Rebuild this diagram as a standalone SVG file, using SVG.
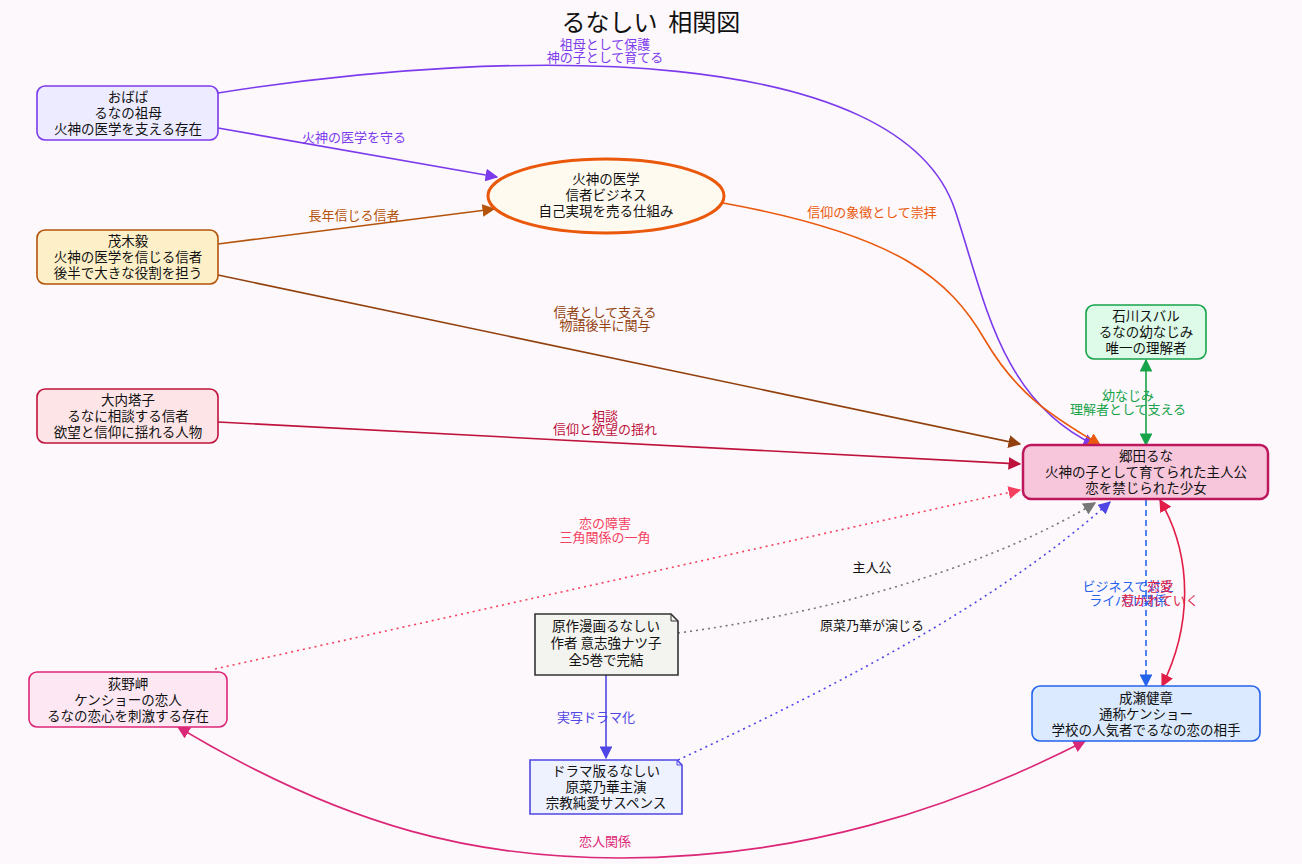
<svg xmlns="http://www.w3.org/2000/svg" width="1302" height="864" viewBox="0 0 1302 864">
<defs>
<style>
text{font-family:"Noto Sans CJK JP","Liberation Sans",sans-serif;font-size:13px;text-anchor:middle}
.n{font-size:13.5px;fill:#111}
.e{fill:none;stroke-width:1.6}
</style>
<marker id="a" viewBox="0 0 10 10" refX="9" refY="5" markerWidth="8" markerHeight="8" orient="auto-start-reverse"><path d="M0,0L10,5L0,10z" fill="context-stroke"/></marker>
</defs>
<rect width="1302" height="864" fill="#fdf8fb"/>
<text x="651" y="31" style="font-size:24px;white-space:pre" fill="#111">るなしい  相関図</text>
<g id="connectors">
<path class="e" stroke="#7c3aed" d="M218,93 C520,45 900,45 955,210 C985,300 1000,400 1095,445" marker-end="url(#a)"/>
<text x="605" y="49" fill="#7c3aed">祖母として保護</text><text x="605" y="62" fill="#7c3aed">神の子として育てる</text>
<path class="e" stroke="#7c3aed" d="M218,128 L497,177" marker-end="url(#a)"/>
<text x="354" y="142" fill="#7c3aed">火神の医学を守る</text>
<path class="e" stroke="#b45309" d="M218,244 L494,209" marker-end="url(#a)"/>
<text x="354" y="220" fill="#b45309">長年信じる信者</text>
<path class="e" stroke="#ea580c" d="M723,203 C900,235 950,280 985,340 C1020,400 1060,420 1100,445" marker-end="url(#a)"/>
<text x="872" y="217" fill="#ea580c">信仰の象徴として崇拝</text>
<path class="e" stroke="#92400e" d="M218,275 L1020,444" marker-end="url(#a)"/>
<text x="605" y="317" fill="#92400e">信者として支える</text><text x="605" y="330" fill="#92400e">物語後半に関与</text>
<path class="e" stroke="#be123c" d="M218,422 L1020,464" marker-end="url(#a)"/>
<text x="605" y="421" fill="#be123c">相談</text><text x="605" y="434" fill="#be123c">信仰と欲望の揺れ</text>
<path class="e" stroke="#f43f5e" stroke-dasharray="2,4" d="M215,669 L1020,490" marker-end="url(#a)"/>
<text x="605" y="528" fill="#f43f5e">恋の障害</text><text x="605" y="542" fill="#f43f5e">三角関係の一角</text>
<path class="e" stroke="#777" stroke-dasharray="2,4" d="M678,633 C850,610 1000,560 1095,503" marker-end="url(#a)"/>
<text x="872" y="572" fill="#111">主人公</text>
<path class="e" stroke="#4f46e5" stroke-dasharray="2,4" d="M678,760 C850,680 1000,600 1110,502" marker-end="url(#a)"/>
<text x="872" y="630" fill="#111">原菜乃華が演じる</text>
<path class="e" stroke="#16a34a" d="M1146,360 L1146,445" marker-start="url(#a)" marker-end="url(#a)"/>
<text x="1128" y="400" fill="#16a34a">幼なじみ</text><text x="1128" y="414" fill="#16a34a">理解者として支える</text>
<path class="e" stroke="#2563eb" stroke-dasharray="6,4" d="M1146,500 L1146,686" marker-end="url(#a)"/>
<path class="e" stroke="#e11d48" d="M1160,500 C1195,560 1190,630 1162,686" marker-start="url(#a)" marker-end="url(#a)"/>
<text x="1128" y="591" fill="#2563eb">ビジネスで対立</text><text x="1128" y="605" fill="#2563eb">ライバル関係</text>
<text x="1160" y="591" fill="#e11d48">恋愛</text><text x="1160" y="605" fill="#e11d48">惹かれていく</text>
<path class="e" stroke="#4f46e5" d="M606,675 L606,758" marker-end="url(#a)"/>
<text x="596" y="722" fill="#4f46e5">実写ドラマ化</text>
<path class="e" stroke="#db2777" d="M178,727 C350,830 480,858 620,858 C800,858 950,810 1085,741" marker-start="url(#a)" marker-end="url(#a)"/>
<text x="605" y="846" fill="#db2777">恋人関係</text>
</g>
<g id="obaba"><rect x="37" y="86" width="181" height="54" rx="8" fill="#ecebff" stroke="#7c3aed" stroke-width="1.6"/>
<text class="n" x="128" y="102">おばば</text><text class="n" x="128" y="118">るなの祖母</text><text class="n" x="128" y="134">火神の医学を支える存在</text></g>
<g id="mogi"><rect x="37" y="230" width="181" height="54" rx="8" fill="#fdf0c8" stroke="#b45309" stroke-width="1.6"/>
<text class="n" x="128" y="246">茂木毅</text><text class="n" x="128" y="262">火神の医学を信じる信者</text><text class="n" x="128" y="278">後半で大きな役割を担う</text></g>
<g id="ouchi"><rect x="37" y="389" width="181" height="54" rx="8" fill="#fde4e6" stroke="#be123c" stroke-width="1.6"/>
<text class="n" x="128" y="405">大内塔子</text><text class="n" x="128" y="421">るなに相談する信者</text><text class="n" x="128" y="437">欲望と信仰に揺れる人物</text></g>
<g id="ogino"><rect x="29" y="672" width="198" height="55" rx="8" fill="#fce7f3" stroke="#db2777" stroke-width="1.6"/>
<text class="n" x="128" y="689">荻野岬</text><text class="n" x="128" y="705">ケンショーの恋人</text><text class="n" x="128" y="721">るなの恋心を刺激する存在</text></g>
<g id="fire"><ellipse cx="606" cy="196" rx="118" ry="37" fill="#fffaef" stroke="#ea580c" stroke-width="3"/>
<text class="n" x="606" y="184">火神の医学</text><text class="n" x="606" y="200">信者ビジネス</text><text class="n" x="606" y="216">自己実現を売る仕組み</text></g>
<g id="ishikawa"><rect x="1086" y="305" width="120" height="54" rx="8" fill="#ddfbe8" stroke="#16a34a" stroke-width="1.6"/>
<text class="n" x="1146" y="321">石川スバル</text><text class="n" x="1146" y="337">るなの幼なじみ</text><text class="n" x="1146" y="353">唯一の理解者</text></g>
<g id="runa"><rect x="1023" y="445" width="245" height="54" rx="8" fill="#f7c6da" stroke="#be185d" stroke-width="2.5"/>
<text class="n" x="1146" y="461">郷田るな</text><text class="n" x="1146" y="477">火神の子として育てられた主人公</text><text class="n" x="1146" y="493">恋を禁じられた少女</text></g>
<g id="kensho"><rect x="1032" y="686" width="228" height="55" rx="8" fill="#dbeafe" stroke="#2563eb" stroke-width="1.6"/>
<text class="n" x="1146" y="703">成瀬健章</text><text class="n" x="1146" y="719">通称ケンショー</text><text class="n" x="1146" y="735">学校の人気者でるなの恋の相手</text></g>
<g id="manga"><path d="M535,614 H671 L678,621 V675 H535 Z" fill="#f3f4f0" stroke="#333" stroke-width="1.6"/><path d="M671,614 V621 H678" fill="none" stroke="#333"/>
<text class="n" x="606" y="631">原作漫画るなしい</text><text class="n" x="606" y="648">作者 意志強ナツ子</text><text class="n" x="606" y="665">全5巻で完結</text></g>
<g id="drama"><path d="M530,760 H677 L682,765 V814 H530 Z" fill="#eef2ff" stroke="#4f46e5" stroke-width="1.6"/><path d="M677,760 V765 H682" fill="none" stroke="#4f46e5"/>
<text class="n" x="606" y="776">ドラマ版るなしい</text><text class="n" x="606" y="792">原菜乃華主演</text><text class="n" x="606" y="808">宗教純愛サスペンス</text></g>
</svg>
